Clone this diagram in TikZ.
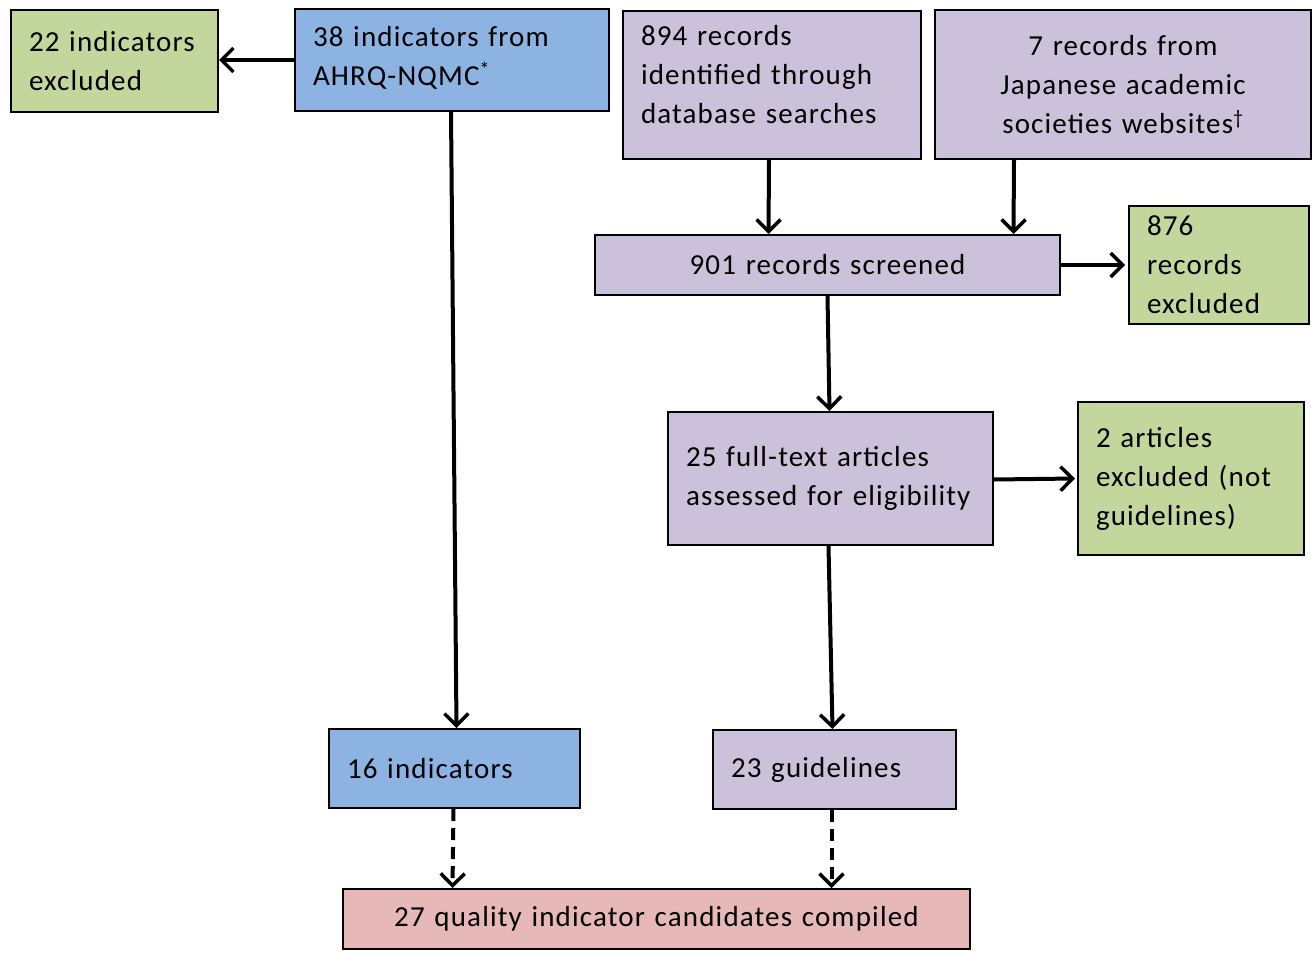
\documentclass[tikz,border=0pt]{standalone}
\usepackage{fontspec}
\setmainfont{Carlito}[LetterSpace=4, WordSpace=0.8]
\usetikzlibrary{arrows.meta}
\definecolor{blueF}{HTML}{8DB3E2}
\definecolor{purpleF}{HTML}{CCC1DA}
\definecolor{greenF}{HTML}{C3D69B}
\definecolor{pinkF}{HTML}{E6B9B8}
\tikzset{
  box/.style={draw=black, line width=2pt, anchor=north west, inner xsep=18pt, inner ysep=0pt,
    font=\fontsize{29}{39}\selectfont, align=left},
  dims/.style 2 args={minimum width=#1pt, minimum height=#2pt, text width=#1pt-36pt},
  flow/.style={line width=4pt, -{Straight Barb[length=12pt, width=24pt, line width=3.5pt]}},
  flowdash/.style={flow, dash pattern=on 12pt off 7pt},
}
\begin{document}
\begin{tikzpicture}[x=1pt,y=-1pt]
\useasboundingbox (0,0) rectangle (1312,953);
\fill[white] (0,0) rectangle (1312,953);

% sources
\node[box, fill=greenF, dims={207}{102}] (excl22) at (10,9) {22 indicators\\excluded};
\node[box, fill=blueF, dims={314}{102}] (ahrq) at (294,8) {38 indicators from\\AHRQ-NQMC\textsuperscript{*}\\[-31pt]\mbox{}};
\node[box, fill=purpleF, dims={298}{148}] (db) at (622,10) {894 records\\identified through\\database searches\\[-18pt]\mbox{}};
\node[box, fill=purpleF, dims={376}{149}, align=center] (jp) at (934,9) {7 records from\\Japanese academic\\societies websites\textsuperscript{\textdagger}};

% screening
\node[box, fill=purpleF, dims={465}{60}, align=center] (scr) at (594,234) {901 records screened\hspace*{8pt}};
\node[box, fill=greenF, dims={180}{118}] (excl876) at (1128,205) {876\\records\\excluded};
\node[box, fill=purpleF, dims={325}{133}] (full) at (667,411) {25 full-text articles\\assessed for eligibility};
\node[box, fill=greenF, dims={226}{153}] (excl2) at (1077,401) {2 articles\\excluded (not\\guidelines)};

% results
\node[box, fill=blueF, dims={251}{79}] (ind16) at (328,728) {16 indicators};
\node[box, fill=purpleF, dims={243}{79}] (gl23) at (712,729) {23 guidelines};
\node[box, fill=pinkF, dims={627}{60}, align=center] (qi) at (342,888) {27 quality indicator candidates compiled};

% connectors
\draw[flow] (ahrq.west) -- (ahrq.west -| excl22.east);
\draw[flow] ([xshift=-1pt]ahrq.south) -- ([xshift=2pt]ind16.north);
\draw[flow] ([xshift=-3pt]db.south) -- ([xshift=-59pt]scr.north);
\draw[flow] ([xshift=-109pt]jp.south) -- ([xshift=186pt]scr.north);
\draw[flow] (scr.east) -- ([xshift=-3pt]excl876.west);
\draw[flow] (scr.south) -- ([xshift=-1pt]full.north);
\draw[flow] ([yshift=-1pt]full.east) -- ([xshift=-2pt]excl2.west);
\draw[flow] ([xshift=-2pt]full.south) -- ([xshift=-2pt]gl23.north);
\draw[flowdash] ([xshift=-1pt]ind16.south) -- ([xshift=-2pt]ind16.south |- qi.north);
\draw[flowdash] ([xshift=-3pt]gl23.south) -- ([xshift=-3pt]gl23.south |- qi.north);
\end{tikzpicture}
\end{document}
